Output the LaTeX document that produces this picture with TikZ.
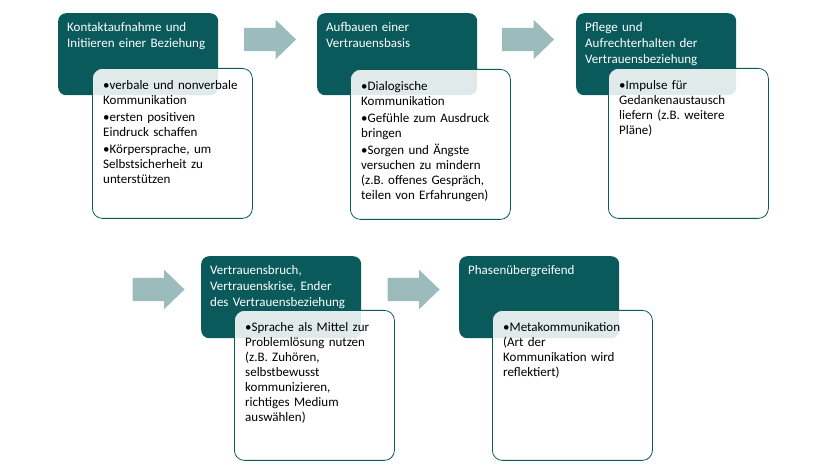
\documentclass[tikz,border=0pt]{standalone}
\usepackage{fontspec}
\setmainfont{Carlito}
\usetikzlibrary{positioning,shapes.arrows}
\definecolor{petrol}{RGB}{10,89,91}
\definecolor{pfeilgrau}{RGB}{155,187,189}
\newcommand{\punkt}[1]{\hangindent=6.5pt\hangafter=1\noindent\makebox[6.5pt][l]{\textbullet}#1\par\vspace{2pt}}

\begin{document}
\begin{tikzpicture}[
        x=1pt, y=-1pt,
        phase/.style={fill=petrol, rounded corners=8pt, minimum width=160pt,
            minimum height=82pt, inner sep=0pt, anchor=north west},
        inhalt/.style={draw=petrol, line width=0.8pt, fill=white, fill opacity=0.88,
            rounded corners=10pt, minimum width=160pt, minimum height=150pt,
            inner sep=0pt, anchor=north west},
        kopf/.style={text=white, anchor=north west, text width=150pt, align=left,
            inner sep=0pt, font=\fontsize{13}{16}\selectfont},
        punkte/.style={anchor=north west, text width=145pt, inner sep=0pt,
            font=\fontsize{13}{15}\selectfont},
        weiter/.style={single arrow, fill=pfeilgrau, minimum height=52pt,
            inner xsep=0pt, inner ysep=11.5pt, single arrow head extend=8pt,
            single arrow tip angle=88}]

        \useasboundingbox (0,0) rectangle (823,470);

        % NODES
        % first row
        \node[phase] (kontakt) at (58,13) {};
        \node[kopf] (kontakt_kopf) at ([shift={(9,9)}]kontakt.north west)
            {Kontaktaufnahme und\\Initiieren einer Beziehung};
        \node[inhalt] (kontakt_box) at ([shift={(34,55)}]kontakt.north west) {};
        \node[punkte] (kontakt_text) at ([shift={(11,12)}]kontakt_box.north west) {%
            \punkt{verbale und nonverbale\\Kommunikation}
            \punkt{ersten positiven\\Eindruck schaffen}
            \punkt{Körpersprache, um\\Selbstsicherheit zu\\unterstützen}};

        \node[phase] (aufbau) at (317,13) {};
        \node[kopf] (aufbau_kopf) at ([shift={(9,9)}]aufbau.north west)
            {Aufbauen einer\\Vertrauensbasis};
        \node[inhalt] (aufbau_box) at ([shift={(33,56)}]aufbau.north west) {};
        \node[punkte] (aufbau_text) at ([shift={(11,12)}]aufbau_box.north west) {%
            \punkt{Dialogische\\Kommunikation}
            \punkt{Gefühle zum Ausdruck\\bringen}
            \punkt{Sorgen und Ängste\\versuchen zu mindern\\(z.B. offenes Gespräch,\\teilen von Erfahrungen)}};

        \node[phase] (pflege) at (576,13) {};
        \node[kopf] (pflege_kopf) at ([shift={(9,9)}]pflege.north west)
            {Pflege und\\Aufrechterhalten der\\Vertrauensbeziehung};
        \node[inhalt] (pflege_box) at ([shift={(32,55)}]pflege.north west) {};
        \node[punkte] (pflege_text) at ([shift={(11,12)}]pflege_box.north west) {%
            \punkt{Impulse für\\Gedankenaustausch\\liefern (z.B. weitere\\Pläne)}};

        % second row
        \node[phase] (bruch) at (201,256) {};
        \node[kopf] (bruch_kopf) at ([shift={(9,9)}]bruch.north west)
            {Vertrauensbruch,\\Vertrauenskrise, Ender\\des Vertrauensbeziehung};
        \node[inhalt] (bruch_box) at ([shift={(33,54)}]bruch.north west) {};
        \node[punkte] (bruch_text) at ([shift={(11,12)}]bruch_box.north west) {%
            \punkt{Sprache als Mittel zur\\Problemlösung nutzen\\(z.B. Zuhören,\\selbstbewusst\\kommunizieren,\\richtiges Medium\\auswählen)}};

        \node[phase] (meta) at (459,256) {};
        \node[kopf] (meta_kopf) at ([shift={(9,9)}]meta.north west)
            {Phasenübergreifend};
        \node[inhalt] (meta_box) at ([shift={(33,54)}]meta.north west) {};
        \node[punkte] (meta_text) at ([shift={(11,12)}]meta_box.north west) {%
            \punkt{Metakommunikation\\(Art der\\Kommunikation wird\\reflektiert)}};

        % ARROWS
        \node[weiter] (pfeil1) at (264,39.5) {};
        \node[weiter] (pfeil2) at (522,39.5) {};
        \node[weiter] (pfeil3) at (152.5,289.5) {};
        \node[weiter] (pfeil4) at (407.5,289.5) {};
\end{tikzpicture}
\end{document}
